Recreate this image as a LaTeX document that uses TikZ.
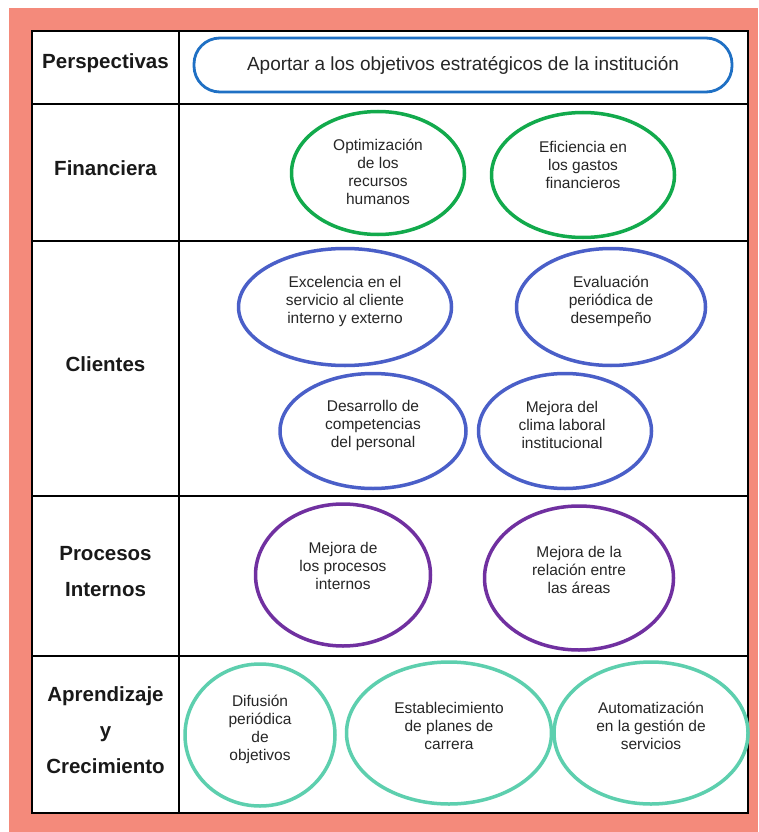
\documentclass[tikz,border=0pt]{standalone}
\usepackage{fontspec}
\setmainfont{Liberation Sans}
\usetikzlibrary{shapes.geometric,positioning}

\definecolor{salmon}{HTML}{F48A7B}
\definecolor{azul}{HTML}{1F70C4}
\definecolor{verde}{HTML}{12AA4C}
\definecolor{añil}{HTML}{4A5FC8}
\definecolor{morado}{HTML}{7030A0}
\definecolor{turquesa}{HTML}{5DCFAE}

\begin{document}
\begin{tikzpicture}[
	x = 1pt, y = -1pt, % pixel units, y downwards
	grid/.style={draw=black, line width=1.4pt},
	persp/.style={font=\fontsize{20.5}{36}\selectfont\bfseries, align=center, text=black!90},
	goal/.style={ellipse, draw=#1, line width=3.5pt, inner sep=0pt},
	goaltext/.style={font=\fontsize{15.5}{18}\selectfont, align=center, text=black!85},
	]

	\useasboundingbox (0,0) rectangle (758,832);
	\fill[salmon] (9,8) rectangle (758,832);

	% Table
	\fill[white] (32,31) rectangle (748,813);
	\draw[grid] (32,31) rectangle (748,813);
	\draw[grid] (179,31) -- (179,813);
	\foreach \y in {104,241,496,656}
		\draw[grid] (32,\y) -- (748,\y);

	% Perspectives
	\node[persp] (perspectivas) at (105.5,63.5) {Perspectivas};
	\node[persp] (financiera)   at (105.5,168.5) {Financiera};
	\node[persp] (clientes)     at (105.5,364.5) {Clientes};
	\node[persp] (procesos)     at (105.5,572) {Procesos\\Internos};
	\node[persp] (aprendizaje)  at (105.5,730.5) {Aprendizaje\\y\\Crecimiento};

	% Mission
	\node[draw=azul, line width=2.8pt, rounded corners=26pt, minimum width=538pt, minimum height=54pt,
		font=\fontsize{19}{22}\selectfont, text=black!85] (mision) at (463,65)
		{Aportar a los objetivos estratégicos de la institución};

	% Objectives
	\node[goal=verde, minimum width=173pt, minimum height=123pt,
		label={[goaltext, yshift=1pt]center:Optimización\\de los\\recursos\\humanos}] (opt) at (378,173) {};
	\node[goal=verde, minimum width=183pt, minimum height=125pt,
		label={[goaltext, yshift=10pt]center:Eficiencia en\\los gastos\\financieros}] (efi) at (583,175) {};

	\node[goal=añil, minimum width=213pt, minimum height=117pt,
		label={[goaltext, yshift=6pt]center:Excelencia en el\\servicio al cliente\\interno y externo}] (exc) at (345,307) {};
	\node[goal=añil, minimum width=189pt, minimum height=117pt,
		label={[goaltext, yshift=6pt]center:Evaluación\\periódica de\\desempeño}] (eva) at (611,307) {};
	\node[goal=añil, minimum width=186pt, minimum height=115pt,
		label={[goaltext, yshift=6pt]center:Desarrollo de\\competencias\\del personal}] (des) at (373,431) {};
	\node[goal=añil, minimum width=173pt, minimum height=115pt,
		label={[goaltext, yshift=6pt, xshift=-3pt]center:Mejora del\\clima laboral\\institucional}] (cli) at (565,431) {};

	\node[goal=morado, minimum width=175pt, minimum height=142pt,
		label={[goaltext, yshift=9pt]center:Mejora de\\los procesos\\internos}] (mej) at (343,575) {};
	\node[goal=morado, minimum width=189pt, minimum height=144pt,
		label={[goaltext, yshift=8pt]center:Mejora de la\\relación entre\\las áreas}] (rel) at (579,578) {};

	\node[goal=turquesa, minimum width=150pt, minimum height=142pt,
		label={[goaltext, yshift=6pt]center:Difusión\\periódica\\de\\objetivos}] (dif) at (260,735) {};
	\node[goal=turquesa, minimum width=205pt, minimum height=142pt,
		label={[goaltext, yshift=7pt]center:Establecimiento\\de planes de\\carrera}] (est) at (449,733) {};
	\node[goal=turquesa, minimum width=194pt, minimum height=142pt,
		label={[goaltext, yshift=7pt]center:Automatización\\en la gestión de\\servicios}] (aut) at (651,733) {};

\end{tikzpicture}
\end{document}
